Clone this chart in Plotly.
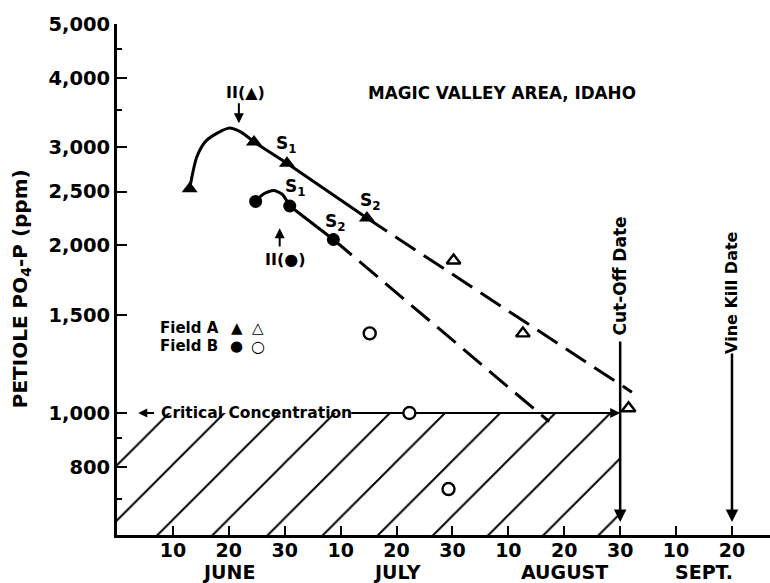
import math
import plotly.graph_objects as go

# ---- data (x = position on the 10-day date scale: June d -> d, July d -> 30+d, Aug d -> 60+d, Sept d -> 90+d)
a_filled_x = [13.0, 24.5, 30.4, 44.7]
a_filled_y = [2530, 3070, 2810, 2240]
a_open_x = [60.2, 72.6, 91.5]
a_open_y = [1880, 1390, 1020]
b_filled_x = [24.8, 30.9, 38.7]
b_filled_y = [2400, 2355, 2050]
b_open_x = [45.2, 52.3, 59.3]
b_open_y = [1390, 1000, 730]

a_curve_x = [13.0, 14.3, 16.1, 20.0, 22.1, 24.5]
a_curve_y = [2530, 2890, 3095, 3250, 3200, 3070]
a_solid_x = [24.5, 30.4, 44.7]
a_solid_y = [3070, 2810, 2240]
a_dash_x = [44.7, 92.1]
a_dash_y = [2240, 1090]

b_curve_x = [24.8, 26.2, 28.0, 29.5, 30.9]
b_curve_y = [2400, 2475, 2510, 2475, 2355]
b_solid_x = [30.9, 38.7]
b_solid_y = [2355, 2050]
b_dash_x = [38.7, 77.3]
b_dash_y = [2050, 965]

critical = 1000
cutoff_day = 90
vinekill_day = 110

x_tickvals = [10, 20, 30, 40, 50, 60, 70, 80, 90, 100, 110]
x_ticktext = ["10", "20", "30", "10", "20", "30", "10", "20", "30", "10", "20"]
months = ["JUNE", "JULY", "AUGUST", "SEPT."]
month_x = [20, 50, 80, 105]
y_tickvals = [800, 1000, 1500, 2000, 2500, 3000, 4000, 5000]
y_ticktext = ["800", "1,000", "1,500", "2,000", "2,500", "3,000", "4,000", "5,000"]
y_minor = [700, 900, 3500, 4500]

FONT = "DejaVu Sans"
X_MIN, X_MAX = 0, 116.8
Y_MIN_LOG, Y_MAX_LOG = 2.7808, 3.699
Y_FLOOR = 10 ** Y_MIN_LOG * 0.97

L = math.log10
fig = go.Figure()

# hatched region below the critical concentration
fig.add_trace(go.Scatter(
    x=[X_MIN, X_MIN, cutoff_day, cutoff_day, X_MIN],
    y=[Y_FLOOR, critical, critical, Y_FLOOR, Y_FLOOR],
    mode="lines", fill="toself", line=dict(width=0, color="rgba(0,0,0,0)"),
    fillcolor="white",
    fillpattern=dict(shape="/", size=39, solidity=0.05, fgcolor="black", fgopacity=1,
                     bgcolor="white", fillmode="replace"),
    hoverinfo="skip", showlegend=False))

solid = dict(color="black", width=3)
dashed = dict(color="black", width=3, dash="24px,10px")
curve = dict(color="black", width=3, shape="spline", smoothing=0.7)

fig.add_trace(go.Scatter(x=a_curve_x, y=a_curve_y, mode="lines", line=curve, showlegend=False))
fig.add_trace(go.Scatter(x=a_solid_x, y=a_solid_y, mode="lines", line=solid, showlegend=False))
fig.add_trace(go.Scatter(x=a_dash_x, y=a_dash_y, mode="lines", line=dashed, showlegend=False))
fig.add_trace(go.Scatter(x=b_curve_x, y=b_curve_y, mode="lines", line=curve, showlegend=False))
fig.add_trace(go.Scatter(x=b_solid_x, y=b_solid_y, mode="lines", line=solid, showlegend=False))
fig.add_trace(go.Scatter(x=b_dash_x, y=b_dash_y, mode="lines", line=dashed, showlegend=False))

# critical concentration line (right part)
fig.add_trace(go.Scatter(x=[41.9, cutoff_day - 1], y=[critical, critical], mode="lines",
                         line=dict(color="black", width=2), showlegend=False))

# markers
fig.add_trace(go.Scatter(x=a_filled_x, y=a_filled_y, mode="markers", name="Field A",
                         marker=dict(symbol="triangle-up", size=14, color="black"), showlegend=False))
fig.add_trace(go.Scatter(x=a_open_x, y=a_open_y, mode="markers",
                         marker=dict(symbol="triangle-up", size=12, color="white",
                                     line=dict(color="black", width=2.4)), showlegend=False))
fig.add_trace(go.Scatter(x=b_filled_x, y=b_filled_y, mode="markers", name="Field B",
                         marker=dict(symbol="circle", size=13, color="black"), showlegend=False))
fig.add_trace(go.Scatter(x=b_open_x, y=b_open_y, mode="markers",
                         marker=dict(symbol="circle", size=12, color="white",
                                     line=dict(color="black", width=2.4)), showlegend=False))

ann = []
def text(x, y, s, size=15, **kw):
    d = dict(x=x, y=L(y), xref="x", yref="y", text=s, showarrow=False,
             xanchor="center", yanchor="middle",
             font=dict(family=FONT, size=size, color="black", weight="bold"))
    d.update(kw)
    ann.append(d)

def arrow(x0, y0, x1, y1, width=2, head=2, size=1.0):
    ann.append(dict(x=x1, y=L(y1), ax=x0, ay=L(y0), xref="x", yref="y", axref="x", ayref="y",
                    text="", showarrow=True, arrowhead=head, arrowsize=size, arrowwidth=width,
                    arrowcolor="black", standoff=0, startstandoff=0))

text(68.8, 3760, "MAGIC VALLEY AREA, IDAHO", size=16.8)
text(23.0, 3760, "II(▲)", size=16)
arrow(21.8, 3626, 21.8, 3316, width=2)
text(30.1, 1891, "II(●)", size=16)
arrow(29.1, 1979, 29.1, 2147, width=2)
text(30.4, 3040, "S<sub>1</sub>", size=17)
text(45.3, 2400, "S<sub>2</sub>", size=17)
text(31.9, 2540, "S<sub>1</sub>", size=17)
text(39.1, 2197, "S<sub>2</sub>", size=17)

text(7.4, 1421, "Field A", size=15, xanchor="left")
text(7.4, 1319, "Field B", size=15, xanchor="left")
text(21.4, 1421, "▲", size=15)
text(25.3, 1421, "△", size=15)
text(21.4, 1319, "●", size=15)
text(25.3, 1319, "○", size=16)

text(24.9, critical, "Critical Concentration", size=15.5)
arrow(6.9, critical, 3.8, critical, width=2, head=2, size=0.9)
arrow(82, critical, cutoff_day, critical, width=2, head=2, size=1.0)

text(cutoff_day, 1760, "Cut-Off Date", size=17, textangle=-90)
arrow(cutoff_day, 1353, cutoff_day, 637, width=2.5)
text(vinekill_day, 1650, "Vine Kill Date", size=16, textangle=-90)
arrow(vinekill_day, 1287, vinekill_day, 637, width=2.5)

for m, mx in zip(months, month_x):
    ann.append(dict(x=mx, y=-0.0724, xref="x", yref="paper", text=m, showarrow=False,
                    xanchor="center", yanchor="middle",
                    font=dict(family=FONT, size=19, color="black", weight="bold")))

ann.append(dict(x=-0.147, y=0.481, xref="paper", yref="paper",
                xanchor="center", yanchor="middle",
                text="PETIOLE PO<sub>4</sub>-P (ppm)", textangle=-90, showarrow=False,
                font=dict(family=FONT, size=20, color="black", weight="bold")))

fig.update_layout(
    width=770, height=583, autosize=False,
    margin=dict(l=117, r=0, t=24, b=48),
    paper_bgcolor="white", plot_bgcolor="white",
    showlegend=False, annotations=ann,
    xaxis=dict(range=[X_MIN, X_MAX], showgrid=False, zeroline=False,
               showline=True, linecolor="black", linewidth=3,
               tickmode="array", tickvals=x_tickvals, ticktext=x_ticktext,
               ticks="inside", ticklen=9, tickwidth=2, tickcolor="black",
               ticklabelstandoff=-4,
               tickfont=dict(family=FONT, size=19, color="black", weight="bold")),
    yaxis=dict(type="log", range=[Y_MIN_LOG, Y_MAX_LOG], showgrid=False, zeroline=False,
               showline=True, linecolor="black", linewidth=3,
               tickmode="array", tickvals=y_tickvals, ticktext=y_ticktext,
               ticks="inside", ticklen=10, tickwidth=2, tickcolor="black",
               tickfont=dict(family=FONT, size=19.5, color="black", weight="bold"),
               minor=dict(tickvals=y_minor, ticks="inside", ticklen=5, tickwidth=2, tickcolor="black")),
)

fig.write_html("out.html", config={"displayModeBar": False},
               post_script="document.body.style.margin='0px';")
